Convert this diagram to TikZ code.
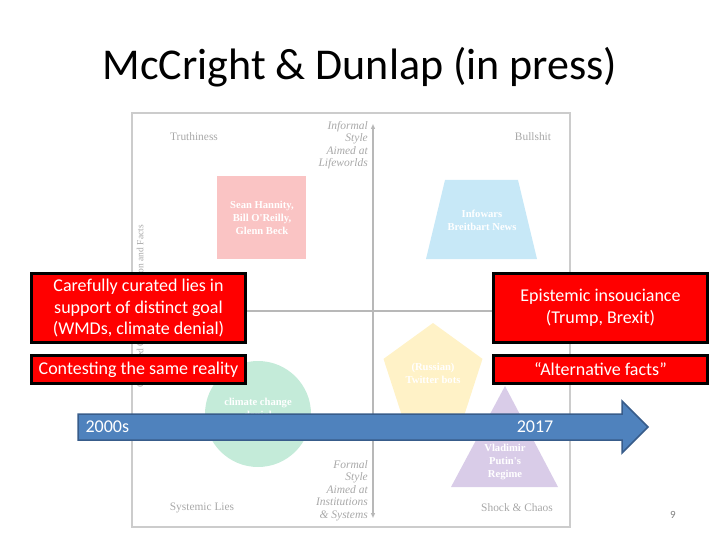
\documentclass[tikz,border=0pt]{standalone}
\usepackage{fontspec}
\setmainfont{Carlito}
\newfontfamily\figfont{Liberation Serif}
\usepackage{xcolor}
\usepackage{tikz}
\usetikzlibrary{arrows.meta,positioning,calc}
\definecolor{figgray}{rgb}{0.66,0.66,0.66}
\definecolor{axgray}{rgb}{0.72,0.72,0.72}
\definecolor{framegray}{rgb}{0.80,0.80,0.80}
\definecolor{tlpink}{rgb}{0.98,0.77,0.77}
\definecolor{tlcyan}{rgb}{0.78,0.91,0.97}
\definecolor{tlgreen}{rgb}{0.77,0.92,0.85}
\definecolor{tlyellow}{rgb}{1.00,0.95,0.78}
\definecolor{tllilac}{rgb}{0.85,0.80,0.91}
\definecolor{arrowblue}{rgb}{0.31,0.51,0.74}
\definecolor{arrowedge}{rgb}{0.22,0.36,0.54}

\begin{document}
\begin{tikzpicture}[
  x=1pt, y=-1pt,
  figtxt/.style={font=\figfont\fontsize{11.4}{13}\selectfont, text=figgray},
  axtxt/.style={font=\figfont\itshape\fontsize{11.5}{12.5}\selectfont,
                text=figgray, align=right, anchor=north east, inner sep=0pt},
  shptxt/.style={font=\figfont\bfseries\fontsize{10.6}{13}\selectfont,
                 text=white, align=center},
  callout/.style={draw=black, line width=3pt, fill=red, text=white,
                  align=center, minimum width=214pt, inner sep=0pt,
                  font=\fontsize{18}{21.5}\selectfont},
  yeartxt/.style={text=white, font=\fontsize{18}{21}\selectfont}
]
\useasboundingbox (0,0) rectangle (720,540);

% --- title ---
\node[font=\fontsize{44}{50}\selectfont] (title) at (360,67)
  {McCright \& Dunlap (in press)};

% --- typology figure (faded, behind) ---
\draw[framegray, line width=2pt] (132,113) rectangle (570,527);
\coordinate (axtop) at (373,124);
\coordinate (axbot) at (373,518);
\coordinate (axleft) at (132,311);
\coordinate (axright) at (570,311);
\draw[axgray, line width=1.2pt,
      {Triangle[length=5pt,width=4pt]}-{Triangle[length=5pt,width=4pt]}]
  (axtop) -- (axbot);
\draw[axgray, line width=1.2pt] (axleft) -- (axright);

\node[figtxt] (truthiness) at (194,137) {Truthiness};
\node[figtxt] (bullshit) at (533,137) {Bullshit};
\node[figtxt] (systemic) at (202,508) {Systemic Lies};
\node[figtxt] (shock) at (517,508) {Shock \& Chaos};
\node[axtxt] (informal) at (368,121)
  {Informal\\Style\\Aimed at\\Lifeworlds};
\node[axtxt] (formal) at (368,460)
  {Formal\\Style\\Aimed at\\Institutions\\\& Systems};
\node[figtxt, font=\figfont\fontsize{9.5}{11}\selectfont, rotate=90,
      anchor=east, inner sep=0pt] (realism) at (141,225)
  {Organized Opposition to Reason and Facts};

\fill[tlpink] (217,176) rectangle (306,259);
\node[shptxt] (hannity) at (262,218)
  {Sean Hannity,\\Bill O'Reilly,\\Glenn Beck};

\fill[tlcyan] (426,259) -- (445,180) -- (518,180) -- (537,259) -- cycle;
\node[shptxt] (infowars) at (482,220) {Infowars\\Breitbart News};

\fill[tlgreen] (258,414) circle (53);
\node[shptxt] (climate) at (258,408) {climate change\\denial};

\fill[tlyellow] (433,323) -- (482.5,358.9) -- (463.6,417.1)
  -- (402.4,417.1) -- (383.5,358.9) -- cycle;
\node[shptxt] (bots) at (433,373) {(Russian)\\Twitter bots};

\fill[tllilac] (505,386) -- (558,487) -- (451,487) -- cycle;
\node[shptxt] (putin) at (505,462) {Vladimir\\Putin's\\Regime};

% --- callouts ---
\node[callout, minimum height=69pt] (curated) at (138.5,308)
  {Carefully curated lies in\\support of distinct goal\\(WMDs, climate denial)};
\node[callout, minimum height=28pt] (contest) at (138.5,369.5)
  {Contesting the same reality};
\node[callout, minimum height=69pt] (insouciance) at (600.5,308)
  {Epistemic insouciance\\(Trump, Brexit)};
\node[callout, minimum height=28pt] (altfacts) at (600.5,369.5)
  {``Alternative facts''};

% --- timeline arrow ---
\filldraw[fill=arrowblue, draw=arrowedge, line width=1.5pt]
  (78,414) -- (622,414) -- (622,401) -- (648,427) -- (622,453)
  -- (622,440) -- (78,440) -- cycle;
\node[yeartxt, anchor=west] (start) at (82,427) {2000s};
\node[yeartxt] (now) at (535,427) {2017};

\node[text=gray, font=\fontsize{11}{13}\selectfont] (pagenum) at (673,515) {9};
\end{tikzpicture}
\end{document}
